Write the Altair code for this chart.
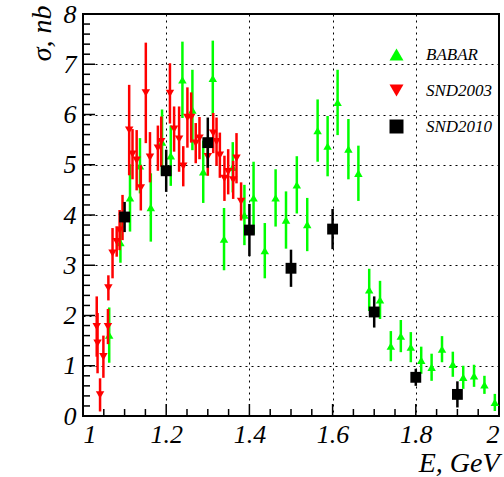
import altair as alt
import pandas as pd

# ---------------- data ----------------
series_names = ["BABAR", "SND2003", "SND2010"]
series_colors = ["#00ff00", "#ff0000", "#000000"]
series_shapes = ["triangle-up", "triangle-down", "square"]

babar_e = [1.063, 1.090, 1.113, 1.137, 1.163, 1.190, 1.211, 1.239, 1.263, 1.289,
           1.312, 1.339, 1.360, 1.388, 1.410, 1.437, 1.463, 1.488, 1.514, 1.539,
           1.564, 1.588, 1.612, 1.638, 1.662, 1.688, 1.714, 1.740, 1.764, 1.788,
           1.813, 1.838, 1.863, 1.889, 1.914, 1.940, 1.965, 1.990]
babar_s = [1.61, 3.45, 4.34, 4.98, 4.15, 5.45, 5.18, 6.69, 6.09, 4.86,
           6.72, 3.52, 4.95, 4.00, 4.34, 3.29, 4.34, 3.90, 4.60, 3.81,
           5.68, 5.37, 6.24, 5.31, 4.83, 2.51, 2.31, 1.39, 1.59, 1.37,
           1.11, 0.97, 1.33, 1.03, 0.77, 0.80, 0.62, 0.27]
babar_err = [0.55, 0.40, 0.67, 0.55, 0.68, 0.65, 0.60, 0.76, 0.80, 0.62,
             0.75, 0.62, 0.50, 0.60, 0.72, 0.55, 0.57, 0.57, 0.57, 0.53,
             0.62, 0.60, 0.65, 0.60, 0.55, 0.42, 0.38, 0.30, 0.32, 0.30,
             0.27, 0.27, 0.26, 0.25, 0.23, 0.22, 0.18, 0.17]

snd03_e = [1.033, 1.035, 1.041, 1.049, 1.060, 1.061, 1.071, 1.081, 1.088, 1.095,
           1.111, 1.119, 1.129, 1.139, 1.151, 1.161, 1.180, 1.188, 1.209, 1.219,
           1.231, 1.241, 1.251, 1.260, 1.271, 1.280, 1.300, 1.313, 1.321, 1.329,
           1.340, 1.349, 1.361, 1.369, 1.380]
snd03_s = [1.78, 1.45, 0.42, 1.18, 1.78, 2.55, 3.24, 3.47, 3.70, 3.95,
           5.69, 5.21, 5.09, 4.54, 6.43, 5.15, 5.33, 5.46, 6.42, 5.71,
           5.51, 4.97, 5.94, 5.94, 5.43, 5.53, 5.16, 5.63, 5.46, 5.19,
           4.73, 4.86, 4.70, 5.13, 4.27]
snd03_err = [0.60, 0.60, 0.33, 0.42, 0.35, 0.25, 0.50, 0.30, 0.40, 0.45,
             0.90, 0.50, 0.60, 0.45, 1.00, 0.50, 0.45, 0.50, 0.60, 0.45,
             0.65, 0.40, 0.60, 0.50, 0.40, 0.42, 0.38, 0.40, 0.48, 0.45,
             0.45, 0.45, 0.38, 0.50, 0.38]

snd10_e = [1.1, 1.2, 1.3, 1.4, 1.5, 1.6, 1.7, 1.8, 1.9]
snd10_s = [3.96, 4.88, 5.44, 3.70, 2.94, 3.72, 2.07, 0.77, 0.43]
snd10_err = [0.30, 0.42, 0.50, 0.52, 0.37, 0.40, 0.31, 0.17, 0.26]

x_major = [1.0, 1.2, 1.4, 1.6, 1.8, 2.0]
x_minor = [1.05, 1.1, 1.15, 1.25, 1.3, 1.35, 1.45, 1.5, 1.55, 1.65, 1.7, 1.75,
           1.85, 1.9, 1.95]
y_major = [0, 1, 2, 3, 4, 5, 6, 7, 8]
y_minor = [0.2, 0.4, 0.6, 0.8, 1.2, 1.4, 1.6, 1.8, 2.2, 2.4, 2.6, 2.8,
           3.2, 3.4, 3.6, 3.8, 4.2, 4.4, 4.6, 4.8, 5.2, 5.4, 5.6, 5.8,
           6.2, 6.4, 6.6, 6.8, 7.2, 7.4, 7.6, 7.8]

# ---------------- table ----------------
rows = []
for name, es, ss, errs in [("BABAR", babar_e, babar_s, babar_err),
                           ("SND2003", snd03_e, snd03_s, snd03_err),
                           ("SND2010", snd10_e, snd10_s, snd10_err)]:
    for e, s, er in zip(es, ss, errs):
        rows.append({"series": name, "E": e, "sigma": s, "lo": s - er, "hi": s + er})
df = pd.DataFrame(rows)

FONT = "Liberation Serif"
W, H = 416, 402

xs = alt.Scale(domain=[1, 2], nice=False, zero=False)
ys = alt.Scale(domain=[0, 8], nice=False, zero=False)

X_AX = alt.Axis(values=x_major, format=".1~f", grid=True, gridColor="black",
                gridDash=[2, 4], gridWidth=1, gridOpacity=1, domain=False, ticks=False,
                labelFont=FONT, labelFontStyle="italic", labelFontSize=26,
                labelColor="black", labelPadding=5, labelFlush=True,
                labelOverlap=False, title="E, GeV", titleFont=FONT,
                titleFontStyle="italic", titleFontWeight="normal", titleFontSize=28,
                titleColor="black", titleAnchor="end", titleAlign="right",
                titleBaseline="alphabetic", titleX=W, titleY=55)
Y_AX = alt.Axis(values=y_major, format="d", grid=True, gridColor="black",
                gridDash=[2, 4], gridWidth=1, gridOpacity=1, domain=False, ticks=False,
                labelFont=FONT, labelFontStyle="italic", labelFontSize=26,
                labelColor="black", labelPadding=7, labelFlush=False,
                labelOverlap=False, title="σ, nb", titleFont=FONT,
                titleFontStyle="italic", titleFontWeight="normal", titleFontSize=28,
                titleColor="black", titleAngle=270, titleAlign="right",
                titleBaseline="alphabetic", titleX=-33, titleY=-9)

LEG = alt.Legend(orient="none", legendX=305, legendY=32, title=None, padding=0,
                 symbolSize=196, symbolStrokeWidth=0, symbolOpacity=1,
                 labelFont=FONT, labelFontStyle="italic", labelFontSize=17,
                 labelColor="black", labelOffset=21, rowPadding=18)

color_scale = alt.Scale(domain=series_names, range=series_colors)
shape_scale = alt.Scale(domain=series_names, range=series_shapes)

base = alt.Chart(df)
layers = []
sizes = {"BABAR": 72, "SND2003": 72, "SND2010": 118}
for name, col in zip(series_names, series_colors):
    sub = base.transform_filter(alt.datum.series == name)
    bars = sub.mark_rule(strokeWidth=2.5, color=col).encode(
        x=alt.X("E:Q", scale=xs, axis=X_AX),
        y=alt.Y("lo:Q", scale=ys, axis=Y_AX),
        y2="hi:Q",
    )
    pts = sub.mark_point(filled=True, opacity=1, size=sizes[name]).encode(
        x=alt.X("E:Q", scale=xs, axis=X_AX),
        y=alt.Y("sigma:Q", scale=ys, axis=Y_AX),
        color=alt.Color("series:N", scale=color_scale, legend=LEG),
        shape=alt.Shape("series:N", scale=shape_scale, legend=LEG),
    )
    layers += [bars, pts]

# inward axis ticks (ROOT style)
xt_major = alt.Chart(pd.DataFrame({"t": x_major})).mark_rule(color="black", strokeWidth=1.5).encode(
    x=alt.X("t:Q", scale=xs, axis=X_AX), y=alt.value(H), y2=alt.value(H - 12))
xt_minor = alt.Chart(pd.DataFrame({"t": x_minor})).mark_rule(color="black", strokeWidth=1.5).encode(
    x=alt.X("t:Q", scale=xs, axis=X_AX), y=alt.value(H), y2=alt.value(H - 7))
yt_major = alt.Chart(pd.DataFrame({"t": y_major})).mark_rule(color="black", strokeWidth=1.5).encode(
    y=alt.Y("t:Q", scale=ys, axis=Y_AX), x=alt.value(0), x2=alt.value(12))
yt_minor = alt.Chart(pd.DataFrame({"t": y_minor})).mark_rule(color="black", strokeWidth=1.5).encode(
    y=alt.Y("t:Q", scale=ys, axis=Y_AX), x=alt.value(0), x2=alt.value(7))

chart = alt.layer(xt_major, xt_minor, yt_major, yt_minor, *layers).properties(
    width=W, height=H,
    padding={"left": 83, "top": 14, "right": 5, "bottom": 61},
    autosize=alt.AutoSizeParams(type="none"),
    background="white",
).configure_view(stroke="black", strokeWidth=2)

chart.save("out.html", embed_options={"renderer": "svg", "actions": False})
